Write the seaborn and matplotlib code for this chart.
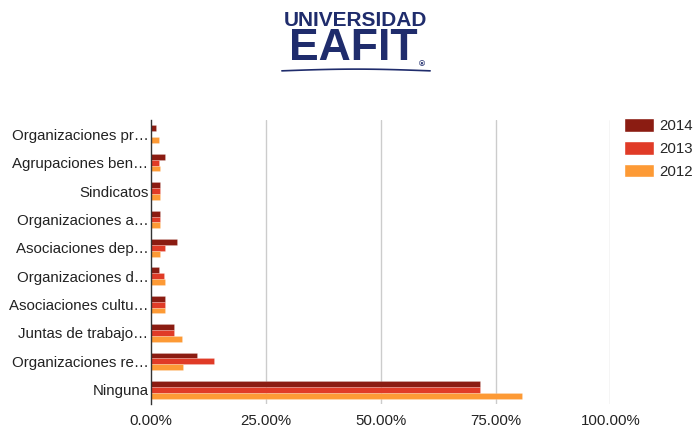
import numpy as np
import pandas as pd
import seaborn as sns
import matplotlib.pyplot as plt
from matplotlib.patches import Patch
from matplotlib.ticker import PercentFormatter

# =========================
# DATOS
# =========================

categorias = [
    "Organizaciones pr…",
    "Agrupaciones ben…",
    "Sindicatos",
    "Organizaciones a…",
    "Asociaciones dep…",
    "Organizaciones d…",
    "Asociaciones cultu…",
    "Juntas de trabajo…",
    "Organizaciones re…",
    "Ninguna",
]
anios = ["2014", "2013", "2012"]
v2014 = [0.01, 0.03, 0.02, 0.02, 0.057, 0.018, 0.03, 0.05, 0.099, 0.716]
v2013 = [0.00, 0.018, 0.02, 0.02, 0.03, 0.028, 0.03, 0.05, 0.138, 0.716]
v2012 = [0.018, 0.02, 0.02, 0.02, 0.02, 0.03, 0.03, 0.068, 0.07, 0.808]
colores = ["#8b1c12", "#e03b27", "#fd9a35"]

df = pd.DataFrame({
    "categoria": categorias * 3,
    "anio": [a for a in anios for _ in categorias],
    "valor": v2014 + v2013 + v2012,
})

# =========================
# GRAFICO
# =========================

sns.set_style("white")
plt.rcParams["font.family"] = ["Liberation Sans", "DejaVu Sans"]

fig = plt.figure(figsize=(6.96, 4.32), dpi=100)
ax = fig.add_axes([0.217, 0.065, 0.66, 0.657])

sns.barplot(
    data=df, y="categoria", x="valor", hue="anio",
    order=categorias, hue_order=anios, palette=colores,
    orient="h", width=0.62, gap=0, legend=False, ax=ax,
    saturation=1, edgecolor=(1, 1, 1, 0.25), linewidth=0.5,
)

ax.set_xlim(0, 1)
ax.set_xticks([0, 0.25, 0.5, 0.75, 1.0])
ax.xaxis.set_major_formatter(PercentFormatter(1.0, decimals=2))
ax.set_xlabel("")
ax.set_ylabel("")
for x in [0.25, 0.5, 0.75, 1.0]:
    ax.axvline(x, color="#cccccc", lw=1, zorder=0)
for s in ["top", "right", "bottom"]:
    ax.spines[s].set_visible(False)
ax.spines["left"].set_color("#333333")
ax.spines["left"].set_linewidth(1)
ax.tick_params(axis="both", length=0, labelsize=10.8, colors="#222222")
ax.tick_params(axis="x", pad=7)
ax.tick_params(axis="y", pad=2)

handles = [Patch(facecolor=c, label=a) for c, a in zip(colores, anios)]
fig.legend(
    handles=handles, loc="upper left", bbox_to_anchor=(0.897, 0.726),
    frameon=False, fontsize=10.8, handlelength=2.0, handleheight=1.05,
    labelspacing=0.5, handletextpad=0.3, borderaxespad=0, borderpad=0,
)

# logo
navy = "#1f2c6c"
fig.text(0.511, 0.94, "UNIVERSIDAD", ha="center", va="baseline",
         fontsize=15, fontweight="bold", color=navy)
fig.text(0.508, 0.86, "EAFIT", ha="center", va="baseline",
         fontsize=32, fontweight="bold", color=navy)
fig.text(0.606, 0.85, "®", ha="center", va="center",
         fontsize=6, fontweight="bold", color=navy)
xs = np.linspace(0.405, 0.618, 30)
ys = 0.836 + 0.004 * np.sin(np.linspace(0, np.pi, 30))
fig.add_artist(plt.Line2D(xs, ys, color=navy, lw=1.2))

plt.savefig("out.png", dpi=100)
